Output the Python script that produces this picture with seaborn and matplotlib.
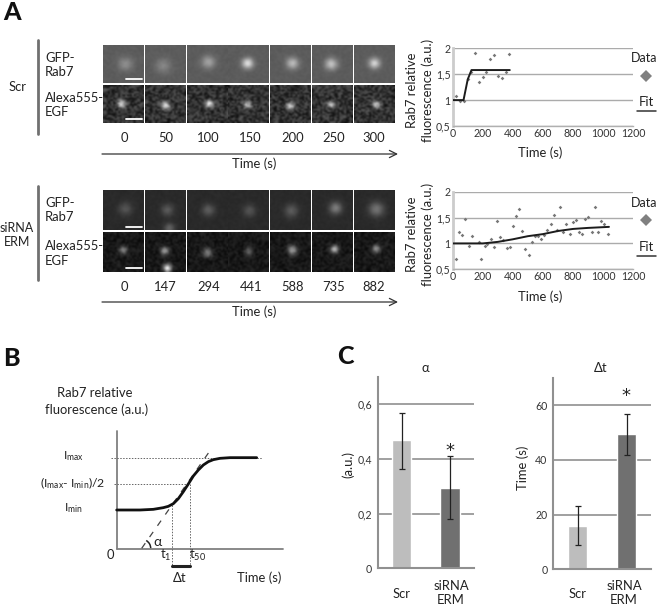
import matplotlib
matplotlib.use('Agg')
import matplotlib.pyplot as plt
import numpy as np
import seaborn as sns
from matplotlib.patches import Arc

W, H = 658, 605

# time courses, panel A
scr_t = [22, 50, 72, 100, 122, 150, 177, 199, 224, 250, 275, 301, 325, 352, 374]
scr_v = [1.07, 0.99, 0.99, 1.40, 1.54, 1.90, 1.34, 1.44, 1.54, 1.79, 1.88, 1.47, 1.43, 1.55, 1.89]
scr_fit_t = [0, 72, 100, 125, 380]
scr_fit_v = [1.0, 1.0, 1.4, 1.58, 1.58]

erm_t = [24, 44, 64, 84, 108, 126, 173, 188, 213, 230, 255, 277, 295, 317, 337, 361, 379, 401, 423,
         443, 463, 483, 505, 527, 549, 569, 589, 609, 629, 651, 675, 693, 715, 735, 757, 779, 799,
         821, 839, 861, 881, 903, 928, 945, 967, 987, 1010, 1032]
erm_v = [0.70, 1.22, 1.16, 1.47, 0.96, 1.14, 1.02, 0.69, 0.96, 0.98, 1.09, 0.93, 1.43, 1.12, 1.07, 0.92, 0.93, 1.34, 1.53,
         1.67, 1.24, 0.89, 0.78, 1.02, 1.15, 1.14, 1.09, 1.16, 1.25, 1.38, 1.54, 1.26, 1.70, 1.23, 1.38, 1.18, 1.41,
         1.45, 1.22, 1.19, 1.48, 1.51, 1.22, 1.70, 1.23, 1.43, 1.38, 1.19]
erm_fit_t = [0, 200, 300, 400, 500, 600, 700, 800, 900, 1040]
erm_fit_v = [1.0, 1.0, 1.03, 1.08, 1.14, 1.18, 1.24, 1.28, 1.30, 1.32]

scr_frames = ['0', '50', '100', '150', '200', '250', '300']
erm_frames = ['0', '147', '294', '441', '588', '735', '882']

# spots seen in each micrograph: x, y (fraction of the panel), brightness, size
gfp_scr = [[(.55, .5, 50, .13)], [(.45, .55, 42, .14)], [(.52, .45, 72, .12)], [(.48, .48, 135, .1)],
           [(.55, .48, 95, .11)], [(.47, .5, 105, .11)], [(.5, .48, 120, .1)]]
egf_scr = [[(.45, .5, 190, .07)], [(.5, .55, 200, .07)], [(.55, .5, 170, .07)], [(.48, .52, 150, .07)],
           [(.5, .55, 160, .07)], [(.47, .52, 140, .065)], [(.55, .52, 150, .07)]]
gfp_erm = [[(.55, .47, 42, .12)], [(.55, .5, 48, .11), (.6, .97, 60, .09)], [(.52, .5, 52, .11)], [(.52, .52, 42, .11)],
           [(.52, .52, 50, .12)], [(.58, .45, 85, .11)], [(.55, .48, 75, .13)]]
egf_erm = [[(.5, .45, 110, .07)], [(.48, .47, 140, .07), (.55, .92, 220, .07)], [(.5, .52, 110, .08)],
           [(.5, .48, 80, .07)], [(.55, .45, 140, .08)], [(.55, .43, 160, .07)], [(.55, .42, 130, .07)]]

# schematic, panel B
model_x = [350, 420, 460, 490, 505, 520, 535, 550, 565, 580, 595, 610, 625, 640, 660, 690, 730, 770]
model_y = [510, 510, 508, 503, 499, 491, 476, 455, 432, 408, 390, 375, 365, 359, 355, 353, 353, 353]

# bars, panel C
groups = ['Scr', 'siRNA\nERM']
alpha_vals = [0.47, 0.295]
alpha_low = [0.365, 0.18]
alpha_high = [0.57, 0.41]
delta_vals = [16, 49.5]
delta_low = [9, 42]
delta_high = [23, 57]

sns.set_theme(style='white')
plt.rcParams['font.family'] = ['Lato', 'DejaVu Sans']
plt.rcParams['mathtext.default'] = 'regular'
plt.rcParams['text.color'] = '#222222'

fig = plt.figure(figsize=(W / 100, H / 100), dpi=100, facecolor='white')

# overlay in picture pixels, for the labels and micrographs
ov = fig.add_axes([0, 0, 1, 1], facecolor='none')
ov.axis('off')


def axes_px(left, top, right, bottom):
    a = fig.add_axes([left / W, 1 - bottom / H, (right - left) / W, (bottom - top) / H], facecolor='none')
    return a


def txt(x, y, s, size=9.4, **kw):
    kw.setdefault('ha', 'center')
    kw.setdefault('va', 'center')
    ov.text(x, y, s, fontsize=size, **kw)


def grain(n):
    i, j = np.mgrid[0:24, 0:24]
    v = np.sin((i + 31 * n) * 12.9898 + (j + 17 * n) * 78.233) * 43758.5453
    return v - np.floor(v)


def micrograph(left, top, bottom, n, spots, bg, speckle):
    yy, xx = np.mgrid[0:1:24j, 0:1:24j]
    im = bg + speckle * (grain(n) - 0.5)
    for sx, sy, peak, size in spots:
        im = im + peak * np.exp(-((xx - sx) ** 2 + (yy - sy) ** 2) / (2 * size ** 2))
    ov.imshow(im, cmap='gray', vmin=0, vmax=255, extent=(left, left + 40.3, bottom, top),
              aspect='auto', interpolation='bicubic')


lefts = [103.3, 145, 186.7, 228.3, 270.3, 312, 354]
for k in range(7):
    micrograph(lefts[k], 46, 83.3, k + 1, gfp_scr[k], 92, 10)
    micrograph(lefts[k], 86, 123.3, k + 11, egf_scr[k], 50, 80)
    micrograph(lefts[k], 190.7, 230, k + 21, gfp_erm[k], 42, 8)
    micrograph(lefts[k], 231.7, 271.7, k + 31, egf_erm[k], 24, 35)

ov.set_xlim(0, W)
ov.set_ylim(H, 0)

# scale bars
for y in [79.3, 119.3, 226.7, 267.7]:
    ov.plot([126, 141.7], [y, y], color='white', lw=1.3)

# row labels
txt(3, 13, 'A', 18, fontweight='black', ha='left', color='#111111')
txt(3, 358, 'B', 18, fontweight='black', ha='left', color='#111111')
txt(337, 356, 'C', 18, fontweight='black', ha='left', color='#111111')
txt(18, 87, 'Scr')
txt(17, 235, 'siRNA\nERM', 9, linespacing=1.25)
for y0, y1 in [(40, 134), (186, 280)]:
    ov.plot([37.7, 37.7], [y0, y1], color='#707070', lw=2)
for y_gfp, y_egf in [(65, 105), (210, 253.5)]:
    txt(45, y_gfp, 'GFP-\nRab7', ha='left', linespacing=1.25)
    txt(45, y_egf, 'Alexa555-\nEGF', ha='left', linespacing=1.25)

label_x = [124, 165.7, 208.3, 250.7, 292.3, 333.7, 374]
for x, a, b in zip(label_x, scr_frames, erm_frames):
    txt(x, 138, a)
    txt(x, 287, b)
for y in [154, 302]:
    ov.annotate('', xy=(398, y), xytext=(102, y),
                arrowprops=dict(arrowstyle='->', color='#333333', lw=0.9, mutation_scale=13, shrinkA=0, shrinkB=0))
txt(254, 164, 'Time (s)')
txt(254, 312, 'Time (s)')

# legend pieces beside the curves
for y_data, y_mark, y_fit, y_line in [(58, 76, 102, 111), (203, 220, 247, 256)]:
    txt(644.5, y_data, 'Data', 9)
    ov.plot(646, y_mark, marker='D', ms=6.5, color='#808080', mew=0)
    txt(646, y_fit, 'Fit')
    ov.plot([637, 656], [y_line, y_line], color='#333333', lw=1.1)


def curve_panel(top, bottom, times, vals, fit_t, fit_v):
    a = axes_px(452.7, top, 633, bottom)
    a.set_xlim(0, 1200)
    a.set_ylim(0.5, 2)
    sns.scatterplot(x=times, y=vals, ax=a, color='#777777', marker='D', s=3.5, linewidth=0, legend=False, zorder=3)
    sns.lineplot(x=fit_t, y=fit_v, ax=a, color='#1c1c1c', lw=1.4, sort=False, errorbar=None, zorder=4)
    a.set_yticks([0.5, 1, 1.5, 2])
    a.set_yticklabels(['0,5', '1', '1,5', '2'])
    a.set_xticks(range(0, 1201, 200))
    a.tick_params(length=0, labelsize=7.6, pad=1.5, colors='#333333')
    a.yaxis.grid(True, color='#ababab', lw=1)
    a.set_axisbelow(True)
    sns.despine(ax=a)
    a.spines['left'].set_color('#cccccc')
    a.spines['left'].set_linewidth(2)
    a.spines['bottom'].set_color('#b0b0b0')
    a.spines['bottom'].set_linewidth(1)
    return a


curve_panel(48.3, 126, scr_t, scr_v, scr_fit_t, scr_fit_v)
curve_panel(191.7, 269.3, erm_t, erm_v, erm_fit_t, erm_fit_v)
txt(420, 90, 'Rab7 relative\nfluorescence (a.u.)', rotation=90, linespacing=1.25)
txt(420, 234, 'Rab7 relative\nfluorescence (a.u.)', rotation=90, linespacing=1.25)
txt(540, 153, 'Time (s)')
txt(540, 297, 'Time (s)')

# panel B, schematic drawn in the picture pixels
mx = [v / 3 for v in model_x]
my = [340 + v / 3 for v in model_y]
ov.plot([117, 117], [430.7, 549], color='#808080', lw=1.3)
ov.plot([117, 282.7], [549, 549], color='#808080', lw=1.3)
dot = dict(color='#666666', lw=0.7, ls=(0, (1.5, 1.5)))
ov.plot([111, 262.3], [458, 458], **dot)
ov.plot([114.3, 188.3], [483.7, 483.7], **dot)
ov.plot([172, 172], [505, 566.7], **dot)
ov.plot([189.7, 189.7], [483.7, 566.7], **dot)
ov.plot([141.7, 211.7], [548.3, 448.3], color='#444444', lw=0.9, ls=(0, (5, 6)))
sns.lineplot(x=mx, y=my, ax=ov, color='#111111', lw=2, sort=False, errorbar=None)
ov.plot([172, 189.7], [566.3, 566.3], color='#222222', lw=2.2)
ov.add_patch(Arc((141.7, 548.3), 18, 18, theta1=-60, theta2=0, color='#222222', lw=1.1))
txt(95, 393, 'Rab7 relative')
txt(97, 410, 'fluorescence (a.u.)')
txt(73, 456, r'I$_{max}$', 8.8)
txt(73, 483, r'(I$_{max}$- I$_{min}$)/2', 8.8)
txt(73, 508, r'I$_{min}$', 8.8)
txt(110.7, 555, '0')
txt(165.7, 555, r't$_{1}$')
txt(198, 555, r't$_{50}$')
txt(157, 541.7, 'α', 10)
txt(180, 578, 'Δt')
txt(259, 578, 'Time (s)')


def bar_panel(left, top, right, bottom, vals, low, high, ymax, ticks, ticklabels):
    a = axes_px(left, top, right, bottom)
    sns.barplot(x=groups, y=vals, hue=groups, palette=['#bdbdbd', '#707070'], width=0.4, ax=a,
                legend=False, saturation=1, zorder=2)
    a.errorbar([0, 1], vals, yerr=[np.array(vals) - low, np.array(high) - vals], fmt='none',
               ecolor='#222222', elinewidth=0.9, capsize=2, capthick=0.9, zorder=3)
    a.set_xlim(-0.5, 1.5)
    a.set_ylim(0, ymax)
    a.set_yticks(ticks)
    a.set_yticklabels(ticklabels)
    a.set_xticks([-0.5, 0.5, 1.5])
    a.set_xticklabels([])
    a.tick_params(axis='x', length=2, color='#909090', width=1)
    a.tick_params(axis='y', length=0, labelsize=7.6, pad=4, colors='#333333')
    a.set_ylabel('')
    a.yaxis.grid(True, color='#a0a0a0', lw=1.4)
    a.set_axisbelow(True)
    sns.despine(ax=a)
    for side in ['left', 'bottom']:
        a.spines[side].set_color('#909090')
        a.spines[side].set_linewidth(1.5)
    return a


bar_panel(377.7, 377, 474, 568.3, alpha_vals, alpha_low, alpha_high, 0.7, [0, 0.2, 0.4, 0.6], ['0', '0,2', '0,4', '0,6'])
bar_panel(553, 378, 651, 569.3, delta_vals, delta_low, delta_high, 70, [0, 20, 40, 60], ['0', '20', '40', '60'])

txt(425.7, 367.7, 'α')
txt(601, 367.7, 'Δt')
txt(348, 465, '(a.u.)', rotation=90)
txt(523, 468, 'Time (s)', rotation=90)
txt(450, 451, '*', 13, family='DejaVu Sans')
txt(626, 396, '*', 13, family='DejaVu Sans')
for cx in [401.7, 577.7]:
    txt(cx, 594, 'Scr')
for cx in [451, 624]:
    txt(cx, 592.5, 'siRNA\nERM', linespacing=1.2)

fig.savefig('out.png', dpi=100)
